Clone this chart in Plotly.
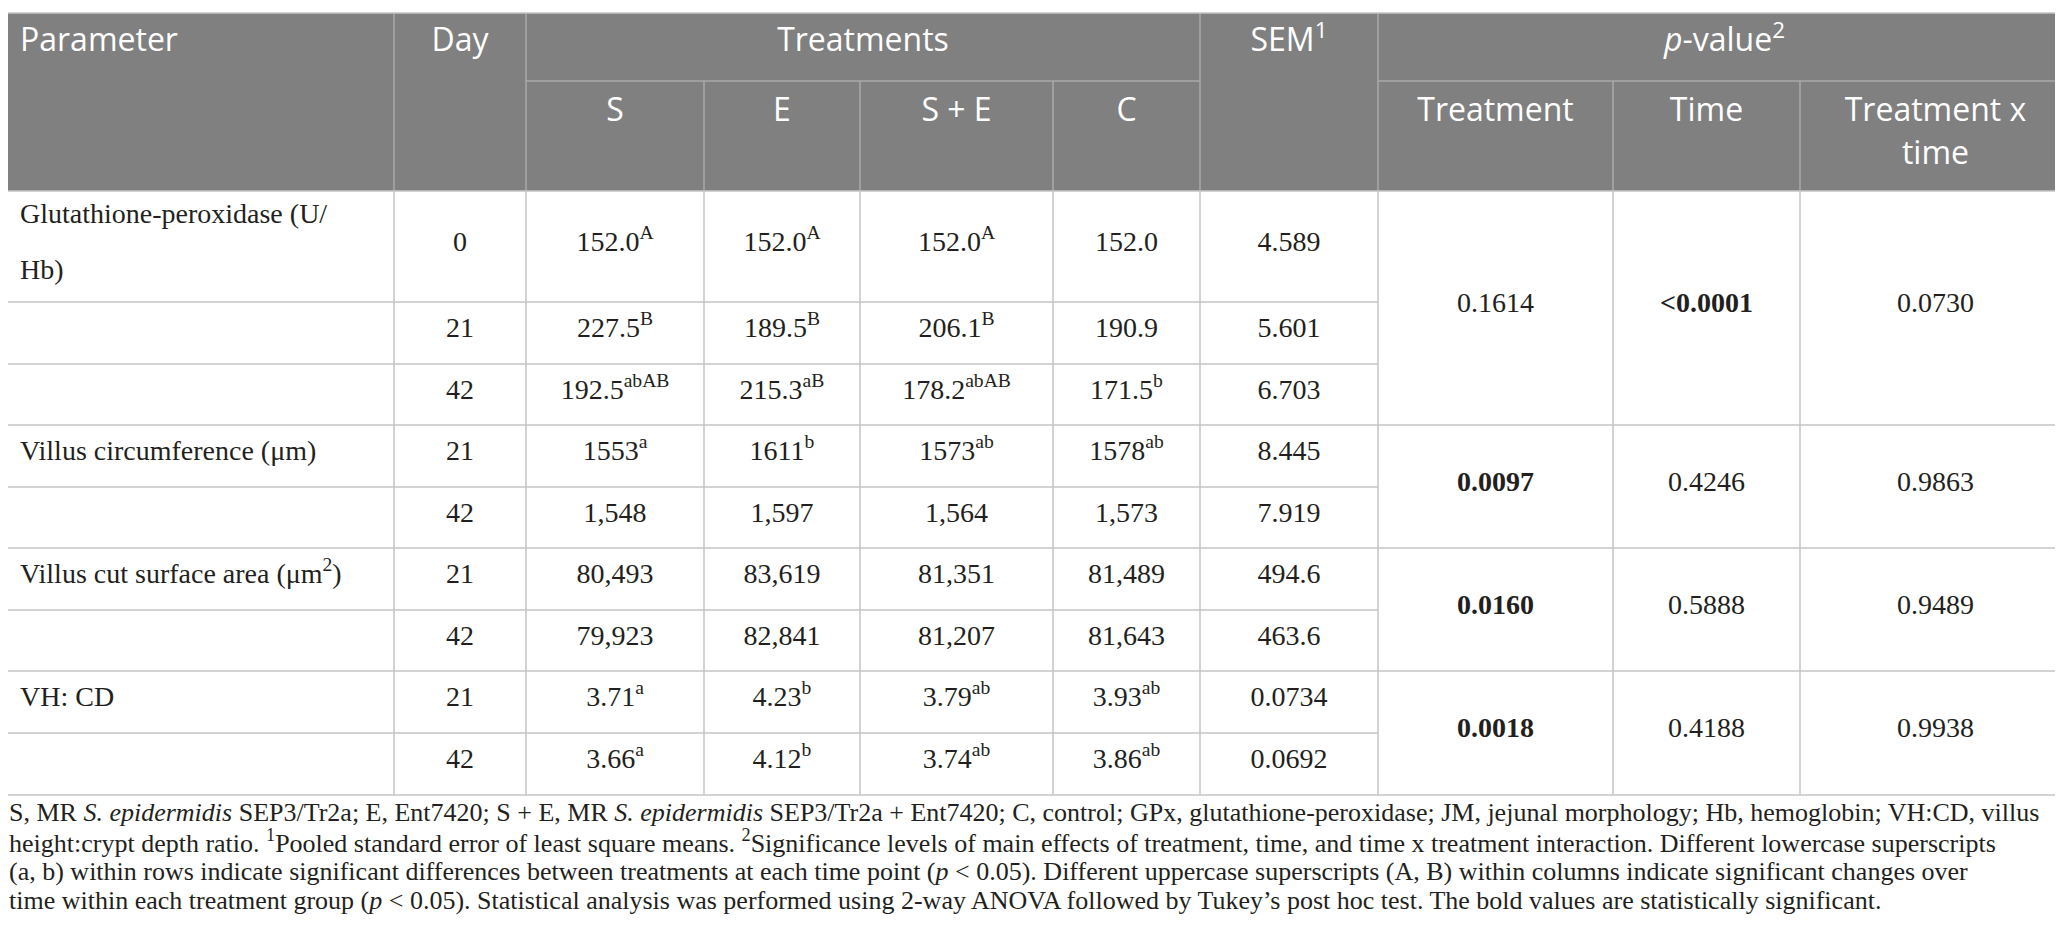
import plotly.graph_objects as go

# table contents
params = [
    "Glutathione-peroxidase (U/<br>Hb)", "", "",
    "Villus circumference (μm)", "",
    "Villus cut surface area (μm<sup>2</sup>)", "",
    "VH: CD", "",
]
days = ["0", "21", "42", "21", "42", "21", "42", "21", "42"]
s_vals = ["152.0<sup>A</sup>", "227.5<sup>B</sup>", "192.5<sup>abAB</sup>", "1553<sup>a</sup>", "1,548",
          "80,493", "79,923", "3.71<sup>a</sup>", "3.66<sup>a</sup>"]
e_vals = ["152.0<sup>A</sup>", "189.5<sup>B</sup>", "215.3<sup>aB</sup>", "1611<sup>b</sup>", "1,597",
          "83,619", "82,841", "4.23<sup>b</sup>", "4.12<sup>b</sup>"]
se_vals = ["152.0<sup>A</sup>", "206.1<sup>B</sup>", "178.2<sup>abAB</sup>", "1573<sup>ab</sup>", "1,564",
           "81,351", "81,207", "3.79<sup>ab</sup>", "3.74<sup>ab</sup>"]
c_vals = ["152.0", "190.9", "171.5<sup>b</sup>", "1578<sup>ab</sup>", "1,573",
          "81,489", "81,643", "3.93<sup>ab</sup>", "3.86<sup>ab</sup>"]
sem_vals = ["4.589", "5.601", "6.703", "8.445", "7.919", "494.6", "463.6", "0.0734", "0.0692"]

# p-values are shared by the rows of each parameter
group_sizes = [3, 2, 2, 2]
p_treatment = ["0.1614", "<b>0.0097</b>", "<b>0.0160</b>", "<b>0.0018</b>"]
p_time = ["<b>&lt;0.0001</b>", "0.4246", "0.5888", "0.4188"]
p_interaction = ["0.0730", "0.9863", "0.9489", "0.9938"]

header_top = ["Parameter", "Day", "Treatments", "SEM<sup>1</sup>", "<i>p</i>-value<sup>2</sup>"]
header_sub = ["S", "E", "S + E", "C", "Treatment", "Time", "Treatment x<br>time"]

footnote = [
    "S, MR <i>S. epidermidis</i> SEP3/Tr2a; E, Ent7420; S + E, MR <i>S. epidermidis</i> SEP3/Tr2a + Ent7420; "
    "C, control; GPx, glutathione-peroxidase; JM, jejunal morphology; Hb, hemoglobin; VH:CD, villus",
    "height:crypt depth ratio. <sup>1</sup>Pooled standard error of least square means. <sup>2</sup>Significance "
    "levels of main effects of treatment, time, and time x treatment interaction. Different lowercase superscripts",
    "(a, b) within rows indicate significant differences between treatments at each time point (<i>p</i> &lt; 0.05). "
    "Different uppercase superscripts (A, B) within columns indicate significant changes over",
    "time within each treatment group (<i>p</i> &lt; 0.05). Statistical analysis was performed using 2-way ANOVA "
    "followed by Tukey’s post hoc test. The bold values are statistically significant.",
]

# grid geometry in pixels
W, H = 2063, 951
cols = [0, 386, 518, 696, 852, 1045, 1192, 1370, 1605, 1792, 2063]
top, mid, head_bot = 5, 73, 183
rows = [183, 294, 356, 417, 479, 540, 602, 663, 725, 787]

HEAD_BG = "#7f807f"
HEAD_LINE = "#a9aaa9"
GRID = "#c4c4c4"
INK = "#231f20"
head_font = dict(family="Open Sans, Noto Sans, sans-serif", size=32, color="white")
body_font = dict(family="Liberation Serif, serif", size=28, color=INK)
note_font = dict(family="Liberation Serif, serif", size=26, color=INK)

fig = go.Figure()


def line(x0, y0, x1, y1, color, width=1.5):
    fig.add_shape(type="line", xref="x", yref="y", x0=x0, y0=y0, x1=x1, y1=y1,
                  line=dict(color=color, width=width))


def mid_x(a, b):
    return (cols[a] + cols[b]) / 2


def text_column(xs, ys, labels, font, position="middle center"):
    fig.add_trace(go.Scatter(x=xs, y=ys, text=labels, mode="text", textposition=position,
                             textfont=font, hoverinfo="skip", cliponaxis=False))


# header block
fig.add_shape(type="rect", xref="x", yref="y", x0=0, x1=W, y0=top, y1=head_bot,
              fillcolor=HEAD_BG, line=dict(width=0), layer="below")
for i in [1, 2, 6, 7]:
    line(cols[i], top, cols[i], head_bot, HEAD_LINE)
for i in [3, 4, 5, 8, 9]:
    line(cols[i], mid, cols[i], head_bot, HEAD_LINE)
line(cols[2], mid, cols[6], mid, HEAD_LINE)
line(cols[7], mid, cols[10], mid, HEAD_LINE)
line(0, top, W, top, GRID)

# body grid
for i in range(1, 10):
    line(cols[i], head_bot, cols[i], rows[-1], GRID)
for y in rows:
    line(0, y, cols[7], y, GRID)
edge = 0
line(cols[7], rows[0], W, rows[0], GRID)
for n in group_sizes:
    edge += n
    line(cols[7], rows[edge], W, rows[edge], GRID)

# header text (multi-line labels are split so the line spacing can follow the reference)
HEAD_Y1, HEAD_Y2, HEAD_PITCH = 35, 105, 43
text_column([12], [HEAD_Y1], [header_top[0]], head_font, "middle right")
text_column([mid_x(1, 2), mid_x(2, 6), mid_x(6, 7), mid_x(7, 10)], [HEAD_Y1] * 4, header_top[1:], head_font)
sub_x, sub_y, sub_t = [], [], []
for j, label in enumerate(header_sub):
    c = j + 2 if j < 4 else j + 3
    for k, part in enumerate(label.split("<br>")):
        sub_x.append(mid_x(c, c + 1))
        sub_y.append(HEAD_Y2 + k * HEAD_PITCH)
        sub_t.append(part)
text_column(sub_x, sub_y, sub_t, head_font)

# body text
SHIFT = -3
centers = [(rows[r] + rows[r + 1]) / 2 + SHIFT for r in range(len(days))]
par_x, par_y, par_t = [], [], []
for r, label in enumerate(params):
    parts = [p for p in label.split("<br>") if p]
    for k, part in enumerate(parts):
        par_x.append(12)
        par_y.append(centers[r] - (len(parts) - 1) * 28 + k * 56)
        par_t.append(part)
text_column(par_x, par_y, par_t, body_font, "middle right")

for k, values in enumerate([days, s_vals, e_vals, se_vals, c_vals, sem_vals]):
    text_column([mid_x(k + 1, k + 2)] * len(values), centers, values, body_font)

group_centers = []
start = 0
for n in group_sizes:
    group_centers.append((rows[start] + rows[start + n]) / 2 + SHIFT)
    start += n
for k, values in enumerate([p_treatment, p_time, p_interaction]):
    text_column([mid_x(k + 7, k + 8)] * len(values), group_centers, values, body_font)

# footnote
for i, note in enumerate(footnote):
    fig.add_annotation(x=0, y=804 + i * 29.5, xref="x", yref="y", text=note, showarrow=False,
                       xanchor="left", yanchor="middle", font=note_font, borderpad=0)

fig.update_xaxes(range=[0, W], visible=False, fixedrange=True)
fig.update_yaxes(range=[H, 0], visible=False, fixedrange=True)
fig.update_layout(
    width=W,
    height=H,
    margin=dict(l=0, r=0, t=0, b=0),
    plot_bgcolor="white",
    paper_bgcolor="white",
    showlegend=False,
)

fig.write_html("out.html")
